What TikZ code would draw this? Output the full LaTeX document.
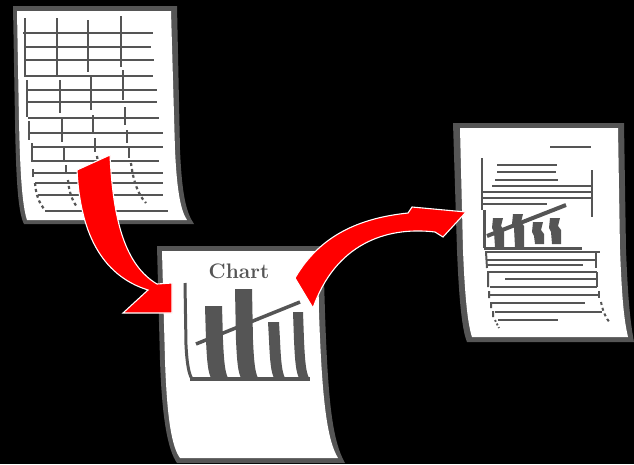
\documentclass[tikz,border=0pt]{standalone}
\begin{document}
\begin{tikzpicture}[x=1pt,y=-1pt,
  pageedge/.style={fill=inkgray},
  pagebody/.style={fill=white},
  gridline/.style={draw=inkgray,line width=2.2pt},
  dotline/.style={draw=inkgray,line width=2.2pt,dash pattern=on 3pt off 3pt},
  textline/.style={draw=inkgray,line width=2pt},
  redarrow/.style={fill=arrowred,draw=white,line width=1.1pt,line join=miter}]
\definecolor{inkgray}{HTML}{555555}
\definecolor{arrowred}{HTML}{FF0000}

% backdrop
\fill[black] (0,0) rectangle (634,464);
\useasboundingbox (0,0) rectangle (634,464);

% ---------- sheet 1: spreadsheet ----------
\fill[pageedge] (13,6) -- (177,6) -- (180,150)
  .. controls (182,195) and (186,212) .. (194,224) -- (24,224)
  .. controls (18,212) and (16,180) .. (15,120) -- cycle;
\fill[pagebody] (17,11) -- (171,11) -- (175,150)
  .. controls (177,193) and (181,211) .. (187,220) -- (27,220)
  .. controls (22,205) and (20,170) .. (19,120) -- cycle;

\foreach \y/\a/\b in {33/23/153, 47/26/151, 60/26/154, 76/26/153,
    90/27/157, 102/28/157, 118/28/159, 133/29/163, 147/32/163,
    161/32/159, 173/33/163, 183/35/163, 195/38/163, 211/45/168}
  \draw[gridline] (\a,\y) -- (\b,\y);

% columns, bending towards the curl
\draw[gridline] (25,18) -- (25,77) (27,80) -- (27,117) (29,121) -- (29,140)
  (32,143) -- (32,162) (33,169) -- (33,177);
\draw[dotline] (35,183) .. controls (36,195) and (39,203) .. (45,210);
\draw[gridline] (57,18) -- (57,76) (60,80) -- (60,113) (62,118) -- (62,142)
  (64,147) -- (64,162) (66,165) -- (66,173);
\draw[dotline] (68,180) .. controls (69,192) and (72,200) .. (77,207);
\draw[gridline] (88,20) -- (88,72) (91,77) -- (91,110) (93,115) -- (93,132)
  (95,138) -- (95,152);
\draw[dotline] (97,156) -- (99,170);
\draw[gridline] (121,16) -- (121,67) (123,70) -- (123,100) (125,107) -- (125,125)
  (127,130) -- (127,143) (129,147) -- (129,158);
\draw[dotline] (131,163) .. controls (133,180) and (138,195) .. (146,203);

% ---------- sheet 2: chart ----------
\fill[pageedge] (157,246) -- (323,246) -- (325,313)
  .. controls (328,400) and (332,440) .. (345,463) -- (177,463)
  .. controls (168,450) and (162,420) .. (160,360) -- cycle;
\fill[pagebody] (162,251) -- (318,251) -- (319,313)
  .. controls (322,400) and (327,440) .. (338,458) -- (180,458)
  .. controls (172,447) and (167,420) .. (165,360) -- cycle;

\node[text=inkgray,font=\fontsize{21}{25}\selectfont\bfseries,inner sep=0pt]
  (charttitle) at (239,271) {Chart};

\foreach \xl/\w/\t in {205/17/306, 235/17/289, 268/11/322, 293/10/312}
  \fill[inkgray] (\xl,\t) -- ({\xl+\w},\t) -- ({\xl+\w+1},340)
    .. controls ({\xl+\w+2},362) and ({\xl+\w+3},372) .. ({\xl+\w+6},378)
    -- ({\xl+6},378) .. controls ({\xl+3},372) and ({\xl+2},362) .. ({\xl+1},340)
    -- cycle;
\draw[inkgray,line width=3pt] (185,283) -- (186,345)
  .. controls (187,365) and (189,374) .. (192,379);
\draw[inkgray,line width=4pt] (190,379) -- (310,379);
\draw[inkgray,line width=3.5pt] (196,344) -- (300,302);

% ---------- sheet 3: report ----------
\fill[pageedge] (453,123) -- (624,123) -- (626,250)
  .. controls (628,300) and (630,320) .. (634,342) -- (467,342)
  .. controls (462,330) and (459,300) .. (457,250) -- cycle;
\fill[pagebody] (460,128) -- (618,128) -- (620,250)
  .. controls (622,300) and (624,320) .. (628,337) -- (472,337)
  .. controls (468,325) and (465,300) .. (463,250) -- cycle;

\draw[textline] (550,147) -- (591,147);
\draw[textline] (482,158) -- (482,210);
\draw[textline] (592,170) -- (592,217);
\foreach \y/\a/\b in {165/497/557, 172/497/556, 180/495/558, 186/492/592,
    192/483/592, 198/483/592, 204/483/547,
    252/485/600, 260/487/595, 265/487/583, 272/487/597, 279/505/597,
    287/490/597, 295/490/598, 303/492/585, 312/495/602, 320/498/558}
  \draw[textline] (\a,\y) -- (\b,\y);
\draw[textline] (486,252) -- (487,268) (488,273) -- (488,287) (489,291) -- (489,298)
  (491,302) -- (491,308) (493,311) -- (493,317);
\draw[textline,dash pattern=on 2pt off 2pt] (495,320) -- (499,328);
\draw[textline] (596,253) -- (596,268) (597,272) -- (597,287) (599,291) -- (599,298);
\draw[textline,dash pattern=on 3pt off 3pt] (601,302) .. controls (603,312) and (606,318) .. (610,323);

\foreach \xl/\w/\t/\b in {493/10/218/247, 513/10/214/247, 533/10/222/244, 550/10/218/244}
  \fill[inkgray] (\xl,\t) -- ({\xl+\w},\t) -- ({\xl+\w-2},{\t+8}) -- ({\xl+\w+1},{\t+12})
    -- ({\xl+\w+1},\b) -- ({\xl+2},\b) -- ({\xl+1},{\t+14}) -- ({\xl-1},{\t+10}) -- cycle;
\draw[inkgray,line width=3pt] (484,210) -- (484,248);
\draw[inkgray,line width=3pt] (484,248) -- (582,248);
\draw[inkgray,line width=4pt] (487,236) -- (566,205);

% ---------- arrows ----------
\path[redarrow] (77,170) -- (110,155)
  .. controls (113,220) and (125,265) .. (157,284)
  -- (172,283) -- (172,313) -- (123,313) -- (148,290)
  .. controls (100,275) and (80,230) .. (77,170) -- cycle;

\path[redarrow] (295,278)
  .. controls (320,235) and (360,218) .. (408,213)
  -- (412,207) -- (466,212) -- (443,237) -- (435,232)
  .. controls (385,226) and (335,245) .. (313,308) -- cycle;
\end{tikzpicture}
\end{document}
